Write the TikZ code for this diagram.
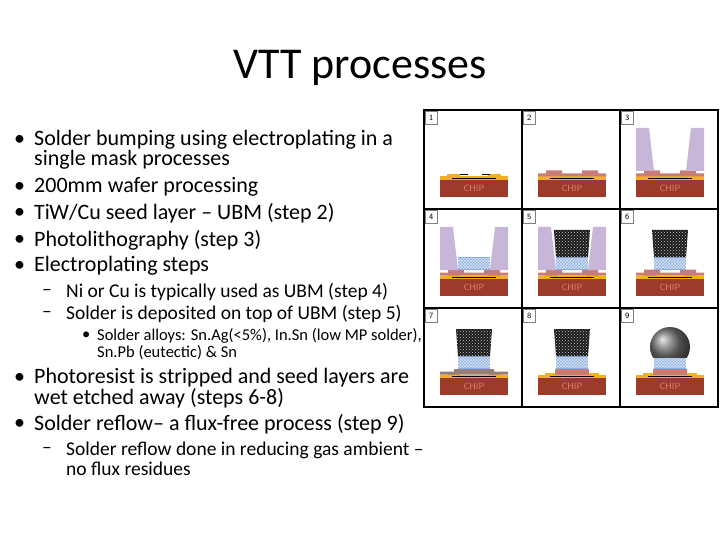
\documentclass[tikz,border=0pt]{standalone}
\usepackage{fontspec}
\setmainfont{Carlito}
\usetikzlibrary{patterns}
\definecolor{chipc}{HTML}{9C3A2C}
\definecolor{chipt}{HTML}{E08070}
\definecolor{yel}{HTML}{F0B020}
\definecolor{seed}{HTML}{C87C78}
\definecolor{resist}{HTML}{C8B6D8}
\definecolor{cu}{HTML}{8CAEE0}
\tikzset{
  bul/.style={anchor=west,font=\fontsize{22}{24}\selectfont,inner sep=0},
  sub/.style={anchor=west,font=\fontsize{19.5}{21}\selectfont,inner sep=0},
  subsub/.style={anchor=west,font=\fontsize{16.5}{18}\selectfont,inner sep=0},
  cellbox/.style={draw=black,line width=1.2pt},
  numbox/.style={draw=gray,fill=white,anchor=north west,font=\fontsize{8}{8}\sffamily,inner sep=1.5pt,minimum width=12pt,minimum height=13pt}
}
\newcommand{\mycell}[3]{%
\begin{scope}[shift={(#1,#2)}]
 \draw[cellbox] (0,0) rectangle (98,99);
 \node[numbox] (n#3) at (1,1) {#3};
 \fill[chipc] (16,70) rectangle (84,87);
 \node[text=chipt,font=\fontsize{9}{9}\sffamily] (c#3) at (50,78) {CHIP};
 \fill[yel] (16,66.5) rectangle (84,70);
 \fill[yel] (23,64.5) rectangle (36,66.5);
 \fill[yel] (64,64.5) rectangle (77,66.5);
 \draw[black,line width=0.5pt] (28,68) -- (72,68);
 \draw[black,line width=0.8pt] (36,64.3) -- (44,64.3);
 \draw[black,line width=0.8pt] (58,64.3) -- (66,64.3);
 \ifnum#3>1
  \ifnum#3<8
   \ifnum#3=7
    \fill[gray!70!seed] (16,63.5) -- (30,63.5) -- (30,61) -- (70,61) -- (70,63.5) -- (84,63.5) -- (84,66.5) -- (16,66.5) -- cycle;
   \else
    \fill[seed] (16,63.5) -- (24,63.5) -- (24,60.5) -- (40,60.5) -- (40,63.5) -- (60,63.5) -- (60,60.5) -- (76,60.5) -- (76,63.5) -- (84,63.5) -- (84,66.5) -- (16,66.5) -- cycle;
   \fi
  \else
   \fill[seed] (33,66.5) -- (33,60.5) -- (67,60.5) -- (67,66.5) -- cycle;
  \fi
 \fi
 \ifnum#3>2 \ifnum#3<6
  \fill[resist] (16,18) -- (29,18) -- (34,61) -- (16,61) -- cycle;
  \fill[resist] (84,18) -- (71,18) -- (66,61) -- (84,61) -- cycle;
 \fi\fi
 \ifnum#3>3
  \fill[cu] (34,48) rectangle (66,60.5);
  \fill[pattern=crosshatch,pattern color=white!70!cu] (34,49) rectangle (66,59);
 \fi
 \ifnum#3>4 \ifnum#3<9
  \fill[black!90] (32,21) -- (68,21) -- (66,48) -- (34,48) -- cycle;
  \fill[pattern=crosshatch dots,pattern color=gray!40] (32,21) -- (68,21) -- (66,48) -- (34,48) -- cycle;
 \fi\fi
 \ifnum#3=9
  \begin{scope}
   \clip (20,10) rectangle (80,49);
   \shade[ball color=black!55] (50,39) circle (20);
  \end{scope}
 \fi
\end{scope}}
\begin{document}
\begin{tikzpicture}[x=1pt,y=-1pt]
\useasboundingbox (0,0) rectangle (720,540);
\node[font=\fontsize{44}{46}\selectfont] (title) at (360,68) {VTT processes};
\node[bul] (b0) at (14,140) {•};
\node[bul] (t1) at (34,140) {Solder bumping using electroplating in a};
\node[bul] (t1b) at (34,160) {single mask processes};
\node[bul] (b2) at (14,187) {•}; \node[bul] (t2) at (34,187) {200mm wafer processing};
\node[bul] (b3) at (14,213) {•}; \node[bul] (t3) at (34,213) {Ti\kern-0.5pt W/Cu seed layer – UBM (step 2)};
\node[bul] (b4) at (14,240) {•}; \node[bul] (t4) at (34,240) {Photolithography (step 3)};
\node[bul] (b5) at (14,266) {•}; \node[bul] (t5) at (34,266) {Electroplating steps};
\node[sub] (d1) at (42,292) {–}; \node[sub] (s1) at (66,292) {Ni or Cu is typically used as UBM (step 4)};
\node[sub] (d2) at (42,314) {–}; \node[sub] (s2) at (66,314) {Solder is deposited on top of UBM (step 5)};
\node[subsub] (e1) at (82,336) {•}; \node[subsub] (u1) at (97,336) {Solder alloys: Sn.Ag(<5\%), In.Sn (low MP solder),};
\node[subsub] (u1b) at (97,353) {Sn.Pb (eutectic) \& Sn};
\node[bul] (b6) at (14,378) {•}; \node[bul] (t6) at (34,378) {Photoresist is stripped and seed layers are};
\node[bul] (t6b) at (34,398) {wet etched away (steps 6-8)};
\node[bul] (b7) at (14,424) {•}; \node[bul] (t7) at (34,424) {Solder reflow– a flux-free process (step 9)};
\node[sub] (d3) at (42,450) {–}; \node[sub] (s3) at (66,450) {Solder reflow done in reducing gas ambient –};
\node[sub] (s3b) at (66,469) {no flux residues};
\mycell{424}{110}{1}\mycell{522}{110}{2}\mycell{620}{110}{3}
\mycell{424}{209}{4}\mycell{522}{209}{5}\mycell{620}{209}{6}
\mycell{424}{308}{7}\mycell{522}{308}{8}\mycell{620}{308}{9}
\end{tikzpicture}
\end{document}
